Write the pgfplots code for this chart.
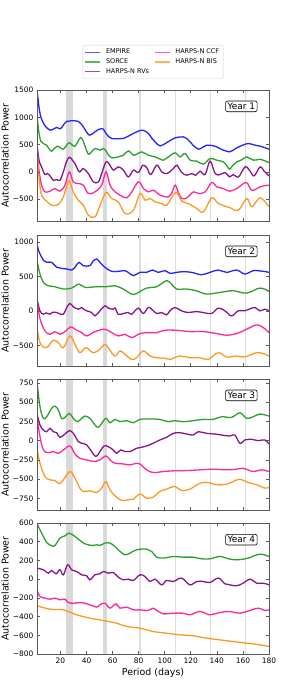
\documentclass[border=0pt]{standalone}
\usepackage{fontspec}
\setmainfont{DejaVu Sans}
\usepackage{pgfplots}
\pgfplotsset{compat=1.18}
\definecolor{cEmp}{RGB}{35,35,255}
\definecolor{cSor}{RGB}{44,160,44}
\definecolor{cRV}{RGB}{135,20,140}
\definecolor{cCCF}{RGB}{255,40,155}
\definecolor{cBIS}{RGB}{255,152,35}
\newcommand{\bands}[2]{%
  \fill[gray!30] (axis cs:24.2,#1) rectangle (axis cs:29.6,#2);
  \fill[gray!30] (axis cs:52.6,#1) rectangle (axis cs:55.5,#2);
  \fill[gray!25] (axis cs:80.1,#1) rectangle (axis cs:81.8,#2);
  \draw[gray!25, line width=0.9bp] (axis cs:108,#1) -- (axis cs:108,#2);
  \draw[gray!25, line width=0.9bp] (axis cs:135,#1) -- (axis cs:135,#2);
  \draw[gray!25, line width=0.9bp] (axis cs:162,#1) -- (axis cs:162,#2);
}
\tikzset{yearlab/.style={draw=black, rounded corners=2bp, fill=white, inner sep=2bp, font=\fontsize{9}{10}\selectfont, line width=0.6bp}}
\pgfplotsset{
  panel/.style={
    scale only axis, width=232bp, height=131bp,
    xmin=2, xmax=180, xtick={20,40,...,180},
    tick align=inside, tick pos=both, major tick length=3bp,
    axis line style={black!65}, tick style={black!65, line width=0.6bp},
    every tick label/.append style={font=\fontsize{7.5}{8}\selectfont},
    /pgf/number format/assume math mode=true,
    ylabel={Autocorrelation Power},
    every axis y label/.style={at={(rel axis cs:0,0.5)}, xshift=-32bp, rotate=90, anchor=center, font=\fontsize{9.5}{10}\selectfont},
    every axis plot/.append style={line width=1.3bp, smooth, tension=0.6},
    axis on top,
  },
}
\begin{document}
\begin{tikzpicture}
\useasboundingbox (0bp,0bp) rectangle (299bp,693bp);

% ---------------- Year 1
\begin{axis}[panel, at={(37bp,472bp)}, anchor=south west,
  ymin=-900, ymax=1500, ytick={-500,0,500,1000,1500},
  yticklabels={−500,0,500,1000,1500}, xticklabels={},
  legend style={at={(0.5,1.084)}, anchor=south, draw=gray!35, rounded corners=1.5bp,
    font=\fontsize{6.5}{7}\selectfont, column sep=3bp, row sep=-0.6bp, inner sep=2bp},
  legend columns=3, transpose legend, legend cell align=left,
  legend image code/.code={\draw[#1, line width=1.3bp, opacity=0.75] (0bp,0bp) -- (15bp,0bp);},
]
\bands{-900}{1500}
\addplot[cEmp] coordinates {(2,1500)(3,1290)(4,1110)(5,1000)(6,940)(7,890)(9,820)(12,764)(14,775)(17,813)(20,789)(22,850)(24.8,925)(28,935)(33.7,925)(37.5,826)(40,730)(42.2,672)(44,690)(46.5,733)(49,775)(51.6,794)(53,780)(55,702)(57,645)(59.3,612)(64,605)(68.3,612)(73.4,672)(78.5,733)(83.2,764)(87.5,702)(90,620)(92.6,550)(96.5,476)(101.6,537)(108,623)(114.4,641)(117,610)(119.5,550)(122,480)(125.9,416)(129,450)(132.3,489)(138.7,470)(143.8,409)(149.7,366)(152,390)(155.3,440)(160,490)(164.2,519)(169.3,489)(173.2,470)(176,450)(180,416)};
\addlegendentry{EMPIRE}
\addplot[cSor] coordinates {(2,1050)(3,800)(4,650)(5,560)(6.8,520)(9.4,489)(11,430)(13.2,379)(15,420)(17.6,470)(20,440)(22.2,416)(24.5,480)(26.8,537)(29,490)(31.1,470)(33,540)(35.5,629)(37.5,560)(38.8,476)(41.4,324)(44,370)(46.5,428)(50.4,397)(52.9,428)(55,380)(57,300)(59.3,257)(64.4,275)(68.3,305)(72.1,385)(76,305)(79,330)(82.4,366)(87.5,305)(92.6,275)(96,240)(99,214)(102.8,275)(108,348)(111.8,275)(115.6,336)(119.5,214)(124.6,196)(129.7,141)(134.8,244)(139.9,214)(145,183)(147.5,120)(149.7,49)(152,110)(155.3,183)(159,220)(163,275)(168,214)(173.2,232)(176,210)(180,171)};
\addlegendentry{SORCE}
\addplot[cRV] coordinates {(2,500)(3,300)(4,170)(5.5,92)(8,-48)(10,-30)(12,-73)(14.5,-152)(17,-140)(19.6,-152)(22.2,-2)(24.5,180)(26.8,269)(29,220)(31.1,153)(34.5,0)(37.5,61)(41.4,-31)(45.2,-183)(49.1,-183)(51.6,-31)(55,183)(58,122)(60.6,31)(64.4,92)(68.3,31)(72.1,-92)(76,31)(79.8,-12)(83.2,122)(86.3,73)(89.3,-49)(93.9,122)(97.7,0)(101.6,-31)(106.7,61)(109.3,122)(113.1,-12)(116.9,-61)(120.8,-31)(123.8,-61)(127.1,12)(131,-49)(134.8,196)(138.7,-31)(142.5,-49)(146.3,-12)(149.7,-92)(152.7,-49)(156.6,-92)(161.7,92)(165.5,12)(168.6,-73)(173.2,92)(176,20)(180,-73)};
\addlegendentry{HARPS-N RVs}
\addplot[cCCF] coordinates {(2,450)(3,150)(4,-50)(5.5,-244)(8,-366)(12,-354)(15.8,-305)(19.6,-354)(23.4,-244)(26.8,0)(29.8,-183)(33.7,-214)(37.5,-244)(41.4,-397)(46.5,-366)(51.6,-244)(55,0)(58,-244)(61.9,-366)(65.7,-427)(70.9,-476)(74.7,-366)(79.8,-183)(83.7,-305)(87.5,-366)(91.3,-336)(96.5,-427)(102.8,-458)(105.5,-380)(108,-244)(110.5,-380)(113.1,-488)(116.9,-476)(122.1,-366)(125.9,-397)(131,-366)(136.1,-195)(139.9,-275)(145,-305)(149.7,-354)(155.3,-305)(162.5,-195)(166.8,-336)(173.2,-275)(176,-255)(180,-244)};
\addlegendentry{HARPS-N CCF}
\addplot[cBIS] coordinates {(2,400)(3,50)(4,-200)(5.5,-427)(9.4,-537)(13.2,-610)(18.3,-598)(22.2,-458)(24.5,-280)(26.8,-165)(29.8,-366)(33.7,-519)(37.5,-610)(41.4,-793)(46.5,-824)(50.4,-610)(55,-378)(59.3,-488)(64.4,-549)(69.6,-763)(76,-702)(81.1,-397)(85,-519)(88.8,-488)(92.6,-549)(97.7,-580)(101.6,-610)(108.5,-378)(113.1,-537)(118.2,-580)(124.6,-671)(129.7,-732)(136.1,-476)(141.2,-580)(150.2,-659)(156.6,-702)(163,-488)(166.8,-641)(173.2,-476)(180,-641)};
\addlegendentry{HARPS-N BIS}
\node[yearlab] at (rel axis cs:0.881,0.875) {Year 1};
\end{axis}

% ---------------- Year 2
\begin{axis}[panel, at={(37bp,327bp)}, anchor=south west,
  ymin=-800, ymax=1100, ytick={-500,0,500,1000},
  yticklabels={−500,0,500,1000}, xticklabels={}]
\bands{-800}{1100}
\addplot[cEmp] coordinates {(2,971)(3.5,860)(5.6,777)(7,730)(9.4,704)(13.2,704)(17.1,631)(20.9,616)(24.8,607)(28.6,592)(31.1,631)(34.2,704)(37.5,655)(42.6,655)(45,720)(47.8,752)(50.3,704)(54.1,631)(59.3,573)(64.4,573)(69.5,583)(72,558)(75.9,510)(81,558)(86.1,558)(90.7,592)(95,558)(100.2,583)(104,544)(109.1,558)(114.2,568)(120.6,558)(128.3,524)(134.7,558)(141.1,592)(147.5,558)(155.1,592)(161.5,534)(167.9,583)(175.6,573)(180,558)};
\addplot[cSor] coordinates {(2,728)(4.3,534)(6.9,413)(10.7,364)(15.8,350)(22.2,316)(28.6,330)(34.2,388)(38.8,340)(47.8,350)(55.4,350)(61.8,364)(68.2,316)(74.6,243)(78.4,252)(86.1,330)(93.8,350)(98.9,413)(102,437)(105.3,388)(109.1,316)(116.8,316)(124.4,291)(132.1,243)(142.3,267)(152.6,291)(162.8,257)(173,330)(180,282)};
\addplot[cRV] coordinates {(2,170)(4.3,0)(6.9,-49)(9,-30)(12,-49)(14,-20)(17.1,-24)(19,-40)(22.2,-49)(24.8,49)(27.3,107)(29.9,58)(33.7,24)(36.3,49)(38,20)(40.1,0)(43.9,-24)(46.5,-73)(50.3,0)(54.1,73)(56.7,39)(60.5,24)(62,40)(64.4,-49)(68.2,-39)(72,-24)(74.6,-49)(79.7,39)(83.5,-39)(87.4,49)(89.9,24)(93.8,-39)(97.6,-24)(101.4,-58)(104,0)(107.8,49)(112.9,0)(118,-24)(124.4,-10)(129.6,-24)(135.9,-39)(141.1,39)(146.2,0)(151.3,-73)(156.4,0)(161.5,0)(165,25)(169.2,49)(173,0)(176.8,24)(180,0)};
\addplot[cCCF] coordinates {(2,194)(3,20)(4.8,-146)(8.1,-291)(12,-340)(15.8,-301)(19.6,-340)(23.5,-301)(27.8,-233)(31.1,-267)(36.3,-316)(40.1,-364)(46.5,-301)(54.1,-267)(59.3,-316)(64.4,-364)(69.5,-340)(74.6,-388)(81,-330)(87.4,-316)(93.8,-316)(100.2,-282)(109.1,-282)(119.3,-301)(129.6,-301)(139.8,-330)(147.5,-354)(155.1,-330)(162.8,-267)(170.5,-204)(175.6,-243)(180,-316)};
\addplot[cBIS] coordinates {(2,-243)(4.3,-461)(8.1,-534)(10.7,-510)(14.5,-427)(18.4,-461)(22.2,-534)(27.3,-364)(31.1,-485)(34.9,-607)(39.5,-534)(45.2,-607)(50.3,-558)(54.1,-485)(58,-573)(61.8,-655)(65.7,-582)(69.5,-631)(74.6,-704)(78.4,-680)(83.5,-582)(88.7,-655)(93.8,-680)(100.2,-689)(104,-704)(111.7,-655)(119.3,-680)(127,-680)(133.4,-704)(141.1,-607)(147.5,-670)(155.1,-655)(161.5,-670)(167.9,-621)(173,-607)(180,-655)};
\node[yearlab] at (rel axis cs:0.881,0.875) {Year 2};
\end{axis}

% ---------------- Year 3
\begin{axis}[panel, at={(37bp,183bp)}, anchor=south west,
  ymin=-900, ymax=800, ytick={-750,-500,-250,0,250,500,750},
  yticklabels={−750,−500,−250,0,250,500,750}, xticklabels={}]
\bands{-900}{800}
\addplot[cSor] coordinates {(2,763)(4.3,440)(6.9,289)(9.4,310)(13.2,418)(15.8,448)(18.4,397)(20.9,289)(23.5,302)(26.8,353)(29.9,289)(32.9,246)(36.3,289)(38.8,319)(42.6,289)(46.5,203)(49,172)(51.6,224)(54.9,289)(58,233)(61.8,276)(65.7,246)(70.8,259)(75.9,233)(81,276)(88.7,280)(96.3,276)(102.7,246)(107.8,259)(114.2,246)(121.9,259)(129.6,276)(137.2,276)(143.6,310)(151.3,302)(157.7,362)(162.8,289)(167.9,310)(173,345)(180,319)};
\addplot[cRV] coordinates {(2,353)(4.3,203)(6.9,138)(9.4,116)(12,160)(14.5,116)(17.1,103)(19.6,43)(23.5,86)(26.8,129)(29.9,95)(33.7,-13)(36.3,-34)(40.1,-56)(43.9,-142)(47.2,-207)(50.3,-142)(53.4,-69)(56.7,-78)(60.5,-121)(63.1,-164)(66.2,-121)(69.5,-142)(73.3,-142)(78.4,-99)(82.3,-86)(86.1,-69)(91.2,-34)(96.3,9)(101.4,43)(106.6,95)(111.7,103)(116.8,86)(121.9,73)(125.7,116)(132.1,95)(138.5,86)(143.6,73)(150,60)(153.8,73)(157.7,-34)(161.5,9)(166.6,17)(171.7,0)(176.8,9)(180,-43)};
\addplot[cCCF] coordinates {(2,310)(4.3,52)(6.9,-121)(10.7,-155)(14.5,-142)(18.4,-164)(22.2,-121)(27.3,-69)(31.1,-172)(34.9,-228)(40.1,-250)(46.5,-272)(50.3,-250)(54.9,-198)(58,-250)(61.8,-293)(68.2,-302)(73.3,-315)(78.4,-293)(81,-302)(86.1,-379)(91.2,-414)(98.9,-401)(106.6,-392)(116.8,-388)(127,-379)(137.2,-371)(147.5,-379)(155.1,-371)(160.2,-358)(167.9,-401)(174.3,-379)(180,-401)};
\addplot[cBIS] coordinates {(2,-99)(4.3,-293)(8.1,-465)(12,-509)(15.8,-517)(19.1,-560)(22.2,-509)(27.3,-401)(31.1,-487)(36.3,-647)(42.6,-651)(47.8,-672)(51.6,-616)(54.9,-530)(58,-638)(61.8,-715)(66.9,-776)(72,-767)(75.9,-759)(81,-694)(86.1,-746)(91.2,-733)(96.3,-659)(101.4,-629)(107.8,-595)(112.9,-647)(119.3,-629)(127,-552)(133.4,-543)(139.8,-573)(147.5,-565)(152.6,-530)(157.7,-500)(164.1,-543)(170.5,-573)(176.8,-616)(180,-608)};
\node[yearlab] at (rel axis cs:0.881,0.875) {Year 3};
\end{axis}

% ---------------- Year 4
\begin{axis}[panel, at={(37bp,39bp)}, anchor=south west,
  ymin=-800, ymax=600, ytick={-800,-600,-400,-200,0,200,400,600},
  yticklabels={−800,−600,−400,−200,0,200,400,600},
  xlabel={Period (days)},
  every axis x label/.style={at={(rel axis cs:0.5,0)}, yshift=-19bp, anchor=center, font=\fontsize{9.5}{10}\selectfont}]
\bands{-800}{600}
\addplot[cSor] coordinates {(2,592)(5.6,492)(9.4,392)(13.2,357)(15.8,360)(19.6,438)(23.5,463)(26.8,492)(31.1,456)(34.9,414)(38.8,378)(43.9,360)(47.8,367)(50.3,360)(54.1,385)(58,385)(61.8,349)(65.7,296)(69.5,260)(73.3,278)(78.4,314)(86.1,321)(90,296)(93.8,235)(98.9,225)(106.6,242)(114.2,235)(121.9,235)(128.3,217)(134.7,217)(142.3,242)(150,214)(156.4,207)(164.1,225)(173,267)(180,242)};
\addplot[cRV] coordinates {(2,118)(6.9,100)(10.7,64)(13.2,93)(16.6,57)(19.6,100)(22.2,46)(25.5,153)(28.6,100)(32.4,82)(36.3,46)(40.1,36)(42.6,-7)(46.5,46)(50.3,57)(52.9,82)(56.7,64)(60.5,71)(64.4,21)(68.2,-7)(72,0)(75.9,-14)(81,46)(84.8,29)(88.7,-25)(92.5,0)(97.6,-61)(101.4,-14)(106.6,-25)(112.9,11)(119.3,-61)(124.4,-25)(129.6,-25)(134.7,-36)(141.1,11)(146.2,-50)(150,-61)(155.1,-71)(160.2,-43)(165.3,0)(170.5,-43)(175.6,-43)(180,-61)};
\addplot[cCCF] coordinates {(2,-114)(4.3,-185)(8.1,-203)(12,-214)(15.8,-203)(19.6,-221)(23.5,-214)(26,-250)(29.9,-257)(34.9,-250)(38.8,-257)(42.6,-274)(47.8,-299)(50.3,-274)(54.1,-257)(58,-310)(62.6,-264)(65.7,-310)(70.8,-299)(75.9,-328)(81,-328)(87.4,-335)(91.2,-310)(95,-346)(98.9,-371)(106.6,-364)(114.2,-364)(119.3,-381)(127,-346)(134.7,-381)(142.3,-356)(150,-346)(157.7,-364)(165.3,-335)(171.7,-310)(176.8,-335)(180,-328)};
\addplot[cBIS] coordinates {(2,-285)(12,-321)(22.2,-328)(32.4,-381)(42.6,-417)(52.9,-442)(63.1,-471)(70.8,-506)(81,-524)(91.2,-560)(101.4,-578)(111.7,-595)(121.9,-606)(132.1,-631)(142.3,-649)(152.6,-667)(162.8,-684)(173,-702)(180,-720)};
\node[yearlab] at (rel axis cs:0.881,0.873) {Year 4};
\end{axis}
\end{tikzpicture}
\end{document}
